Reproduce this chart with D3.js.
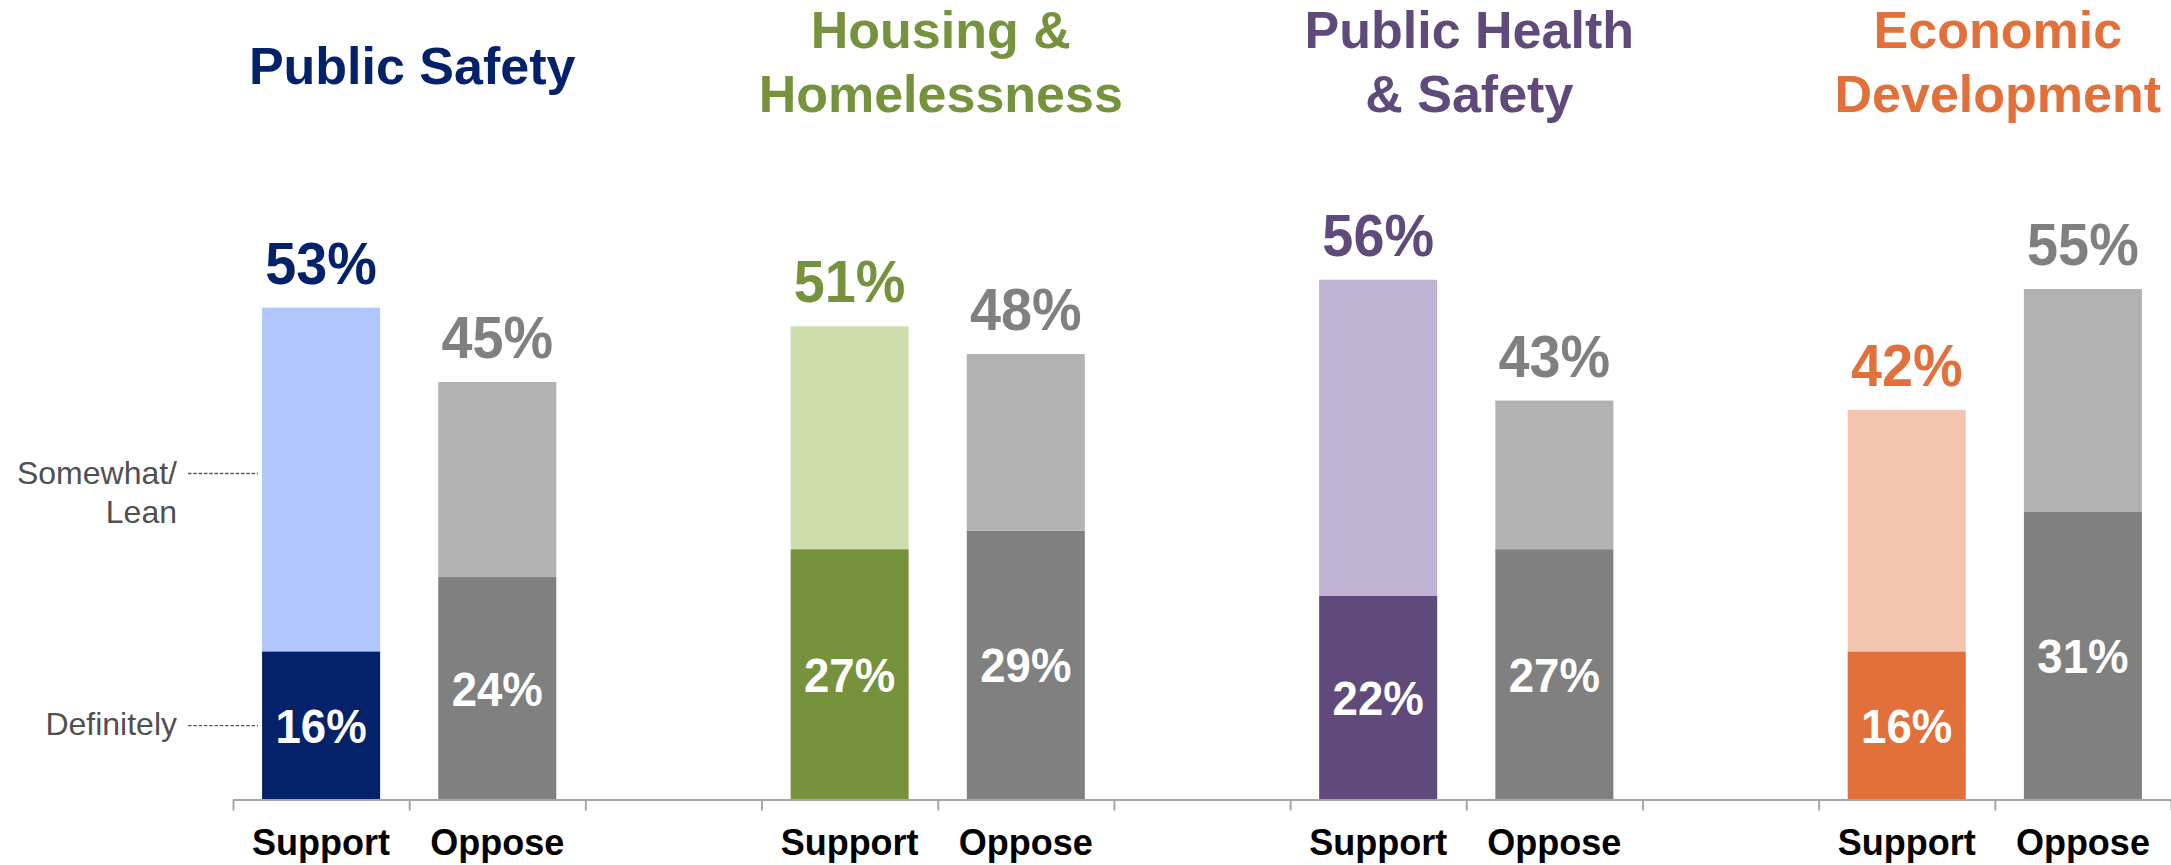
<!DOCTYPE html>
<html>
<head>
<meta charset="utf-8">
<script src="https://cdn.jsdelivr.net/npm/d3@7"></script>
<style>
  html, body { margin: 0; padding: 0; background: #ffffff; }
  svg { display: block; }
  text { font-family: "Liberation Sans", Arial, Helvetica, sans-serif; }
</style>
</head>
<body>
<svg id="chart" width="2171" height="865"></svg>
<script>
// Topics and their heading lines
const topics = ["Public Safety", "Housing & Homelessness", "Public Health & Safety", "Economic Development"];
const titleLines = [["Public Safety"], ["Housing &", "Homelessness"], ["Public Health", "& Safety"], ["Economic", "Development"]];

// Response categories along the axis
const responses = ["Support", "Oppose"];

// Totals (Definitely + Somewhat/Lean) and the Definitely share, in percent
const supportTotal = [53, 51, 56, 42];
const supportDefinitely = [16, 27, 22, 16];
const opposeTotal = [45, 48, 43, 55];
const opposeDefinitely = [24, 29, 27, 31];

// Intensity labels shown on the left
const intensityLabels = ["Definitely", "Somewhat/ Lean"];

// Colours per topic (strong / light) and for the oppose bars
const topicDark = ["#03226A", "#76923C", "#604A7B", "#E2703A"];
const topicLight = ["#B0C6FC", "#CDDDAB", "#BFB1D1", "#F4C5AE"];
const opposeDark = "#808080";
const opposeLight = "#B2B2B2";

const svg = d3.select("#chart");

// One slot per bar, with an empty slot between topics
const slots = [];
topics.forEach((t, i) => {
  responses.forEach(r => slots.push(t + "|" + r));
  if (i < topics.length - 1) slots.push(t + "|gap");
});

const left = 233, right = 2171, baseY = 800;
const x = d3.scaleBand().domain(slots).range([left, right])
  .paddingInner(0.33).paddingOuter(0.165);
const y = d3.scaleLinear().domain([0, 100]).range([baseY, baseY - 929]);

// Build bar records
const bars = [];
topics.forEach((t, i) => {
  bars.push({ topic: i, resp: "Support", total: supportTotal[i], def: supportDefinitely[i],
              dark: topicDark[i], light: topicLight[i], labelColor: topicDark[i] });
  bars.push({ topic: i, resp: "Oppose", total: opposeTotal[i], def: opposeDefinitely[i],
              dark: opposeDark, light: opposeLight, labelColor: opposeDark });
});
bars.forEach(b => {
  b.key = topics[b.topic] + "|" + b.resp;
  b.cx = x(b.key) + x.bandwidth() / 2;
});

// Stacked segments: Definitely at the bottom, Somewhat/Lean on top
const g = svg.append("g");
g.selectAll("rect.def").data(bars).join("rect")
  .attr("class", "def")
  .attr("x", d => x(d.key))
  .attr("width", x.bandwidth())
  .attr("y", d => y(d.def))
  .attr("height", d => y(0) - y(d.def))
  .attr("fill", d => d.dark);

g.selectAll("rect.lean").data(bars).join("rect")
  .attr("class", "lean")
  .attr("x", d => x(d.key))
  .attr("width", x.bandwidth())
  .attr("y", d => y(d.total))
  .attr("height", d => y(d.def) - y(d.total))
  .attr("fill", d => d.light);

// Total labels above the bars
g.selectAll("text.total").data(bars).join("text")
  .attr("class", "total")
  .attr("transform", d => `translate(${d.cx},${y(d.total) - 24}) scale(0.93,1)`)
  .attr("text-anchor", "middle")
  .attr("font-size", 60)
  .attr("font-weight", "bold")
  .attr("fill", d => d.labelColor)
  .text(d => d.total + "%");

// Definitely labels inside the strong segment
g.selectAll("text.deflabel").data(bars).join("text")
  .attr("class", "deflabel")
  .attr("transform", d => `translate(${d.cx},${(y(d.def) + y(0)) / 2 + 17}) scale(0.95,1)`)
  .attr("text-anchor", "middle")
  .attr("font-size", 48)
  .attr("font-weight", "bold")
  .attr("fill", "#ffffff")
  .text(d => d.def + "%");

// Category axis with tick marks between slots
const slotIndex = d3.scaleLinear().domain([0, slots.length]).range([left, right]);
const axis = d3.axisBottom(slotIndex)
  .tickValues(d3.range(slots.length + 1))
  .tickFormat("")
  .tickSize(11)
  .tickSizeOuter(0);
const axisG = svg.append("g").attr("transform", `translate(0,${baseY - 0.5})`).call(axis);
axisG.select(".domain").attr("stroke", "#A6A6A6").attr("stroke-width", 2);
axisG.selectAll(".tick line").attr("stroke", "#A6A6A6").attr("stroke-width", 2);

// Response names under each bar
svg.selectAll("text.cat").data(bars).join("text")
  .attr("class", "cat")
  .attr("x", d => d.cx)
  .attr("y", 855)
  .attr("text-anchor", "middle")
  .attr("font-size", 36)
  .attr("font-weight", "bold")
  .attr("fill", "#000000")
  .text(d => d.resp);

// Topic headings centred over each pair of bars
topics.forEach((t, i) => {
  const cx = (x(t + "|Support") + x(t + "|Oppose")) / 2 + x.bandwidth() / 2 + 3;
  const lines = titleLines[i];
  const ys = lines.length === 1 ? [84] : [48, 112];
  svg.append("g").selectAll("text").data(lines).join("text")
    .attr("x", cx)
    .attr("y", (d, j) => ys[j])
    .attr("text-anchor", "middle")
    .attr("font-size", 52)
    .attr("font-weight", "bold")
    .attr("fill", topicDark[i])
    .text(d => d);
});

// Intensity key on the left with dotted leaders to the first bar
const first = bars[0];
const leaders = [
  { lines: [intensityLabels[0]], yLine: (y(first.def) + y(0)) / 2, dy: 9 },
  { lines: ["Somewhat/", "Lean"], yLine: (y(first.total) + y(first.def)) / 2 - 6, dy: 11 }
];
const key = svg.append("g");
leaders.forEach(l => {
  key.append("line")
    .attr("x1", 188).attr("x2", 258)
    .attr("y1", l.yLine).attr("y2", l.yLine)
    .attr("stroke", "#595959")
    .attr("stroke-width", 1.3)
    .attr("stroke-dasharray", "3.5,1.8");
  key.append("g").selectAll("text").data(l.lines).join("text")
    .attr("x", 177)
    .attr("y", (d, j) => l.yLine + l.dy + j * 39)
    .attr("text-anchor", "end")
    .attr("font-size", 32)
    .attr("fill", "#505050")
    .text(d => d);
});
</script>
</body>
</html>
